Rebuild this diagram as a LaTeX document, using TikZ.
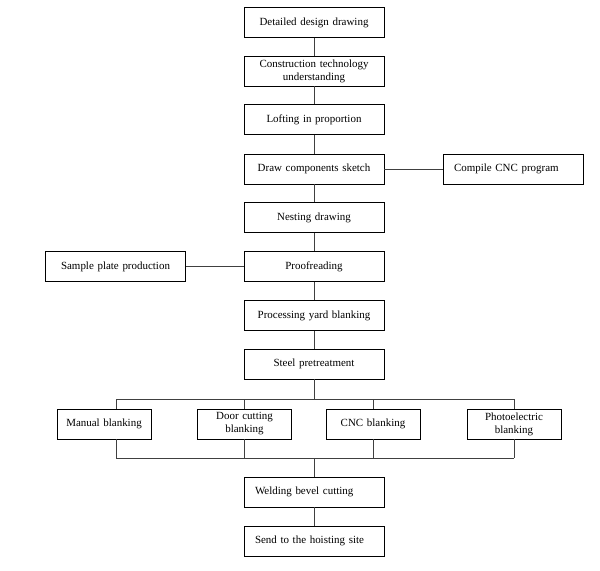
\documentclass[tikz,border=0pt]{standalone}
\usepackage{fontspec}
\setmainfont{Liberation Serif}

\tikzset{
	box/.style={draw, line width=0.8bp, text width=118bp, inner xsep=11bp, inner ysep=2bp,
		minimum height=30bp, align=center, font=\fontsize{11}{13}\selectfont},
	lbox/.style={box, align=left},
	sbox/.style={box, text width=86bp, inner xsep=4bp},
	link/.style={draw=black!75, line width=0.8bp},
}

\begin{document}
\begin{tikzpicture}[x=1bp, y=-1bp]
	\useasboundingbox (0,0) rectangle (600,571);
	\node[box] (design) at (314,22.5) {Detailed design drawing};
	\node[box] (tech) at (314,71) {Construction technology\\understanding};
	\node[box] (loft) at (314,119.5) {Lofting in proportion};
	\node[box] (sketch) at (314,169) {Draw components sketch};
	\node[lbox] (program) at (513,169) {Compile CNC program};
	\node[box] (nest) at (314,217.5) {Nesting drawing};
	\node[box] (proof) at (314,266.5) {Proofreading};
	\node[box] (sample) at (115.5,266.5) {Sample plate production};
	\node[box] (yard) at (314,315.5) {Processing yard blanking};
	\node[box] (steel) at (314,364) {Steel pretreatment};
	\node[sbox] (manual) at (104,424) {Manual blanking};
	\node[sbox] (door) at (244.5,424) {Door cutting\\blanking};
	\node[sbox] (cnc) at (373,424) {CNC blanking};
	\node[sbox] (photo) at (514,424) {Photoelectric\\blanking};
	\node[lbox] (weld) at (314,492) {Welding bevel cutting};
	\node[lbox] (send) at (314,541) {Send to the hoisting site};
	\coordinate (fork) at (314,399);
	\coordinate (join) at (314,458);
	\draw[link] (design) -- (tech);
	\draw[link] (tech) -- (loft);
	\draw[link] (loft) -- (sketch);
	\draw[link] (sketch) -- (program);
	\draw[link] (sketch) -- (nest);
	\draw[link] (nest) -- (proof);
	\draw[link] (proof) -- (sample);
	\draw[link] (proof) -- (yard);
	\draw[link] (yard) -- (steel);
	\draw[link] (steel) -- (fork);
	\foreach \n/\x in {manual/116, door/244.5, cnc/373, photo/514} {
		\coordinate (top-\n) at (\x,399);
		\coordinate (bot-\n) at (\x,458);
		\draw[link] (top-\n) -- (top-\n |- \n.north);
		\draw[link] (bot-\n |- \n.south) -- (bot-\n);
	}
	\draw[link] (top-manual) -- (top-photo);
	\draw[link] (bot-manual) -- (bot-photo);
	\draw[link] (join) -- (weld);
	\draw[link] (weld) -- (send);
\end{tikzpicture}
\end{document}
